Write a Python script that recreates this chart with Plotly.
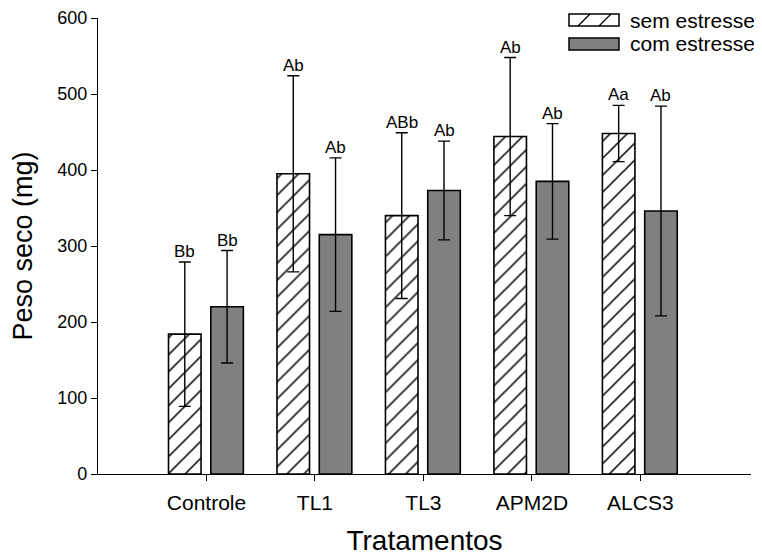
import plotly.graph_objects as go

categories = ["Controle", "TL1", "TL3", "APM2D", "ALCS3"]
sem_values = [184, 395, 340, 444, 448]
sem_errors = [95, 129, 109, 104, 37]
com_values = [220, 315, 373, 385, 346]
com_errors = [74, 101, 65, 76, 138]
sem_labels = ["Bb", "Ab", "ABb", "Ab", "Aa"]
com_labels = ["Bb", "Ab", "Ab", "Ab", "Ab"]
series_names = ["sem estresse", "com estresse"]
y_ticks = [0, 100, 200, 300, 400, 500, 600]

FONT = "Arial, Liberation Sans, sans-serif"
xpos = list(range(len(categories)))

fig = go.Figure()
fig.add_trace(go.Bar(
    x=xpos, y=sem_values, name=series_names[0],
    offset=-0.35, width=0.30,
    marker=dict(color="white", line=dict(color="black", width=1.6),
                pattern=dict(shape="/", fgcolor="black", bgcolor="white",
                             size=12, solidity=0.13, fgopacity=1)),
    error_y=dict(type="data", array=sem_errors, color="black", thickness=1.4, width=6),
))
fig.add_trace(go.Bar(
    x=xpos, y=com_values, name=series_names[1],
    offset=0.04, width=0.30,
    marker=dict(color="#808080", line=dict(color="black", width=1.6)),
    error_y=dict(type="data", array=com_errors, color="black", thickness=1.4, width=6),
))

for i in xpos:
    fig.add_annotation(x=i - 0.20, y=sem_values[i] + sem_errors[i], text=sem_labels[i],
                       showarrow=False, yanchor="bottom", yshift=-1,
                       font=dict(family=FONT, size=17, color="black"))
    fig.add_annotation(x=i + 0.19, y=com_values[i] + com_errors[i], text=com_labels[i],
                       showarrow=False, yanchor="bottom", yshift=-1,
                       font=dict(family=FONT, size=17, color="black"))

# page body has an 8px margin: compensate so the plot lands where intended
OFF = 8
W, H = 762, 559
L, T = 98 - OFF, 18 - OFF
pw, ph = 653, 456
R = W - L - pw
B = H - T - ph


def px(x):
    return (x - OFF - L) / pw


def py(y):
    return (T + ph - (y - OFF)) / ph


fig.add_shape(type="rect", xref="paper", yref="paper",
              x0=px(569), x1=px(619), y0=py(26), y1=py(14),
              fillcolor="white", line=dict(color="black", width=1.5))
for xa, xb in [(578, 590), (599, 611)]:
    fig.add_shape(type="line", xref="paper", yref="paper",
                  x0=px(xa), x1=px(xb), y0=py(26), y1=py(14),
                  line=dict(color="black", width=1.3))
fig.add_shape(type="rect", xref="paper", yref="paper",
              x0=px(569), x1=px(619), y0=py(50), y1=py(38),
              fillcolor="#808080", line=dict(color="black", width=1.5))
fig.add_annotation(xref="paper", yref="paper", x=px(628), y=py(20), text=series_names[0],
                   showarrow=False, xanchor="left", yanchor="middle",
                   font=dict(family=FONT, size=21, color="black"))
fig.add_annotation(xref="paper", yref="paper", x=px(628), y=py(44), text=series_names[1],
                   showarrow=False, xanchor="left", yanchor="middle",
                   font=dict(family=FONT, size=21, color="black"))

fig.update_layout(
    width=W, height=H,
    margin=dict(l=L, r=R, t=T, b=B, autoexpand=False),
    paper_bgcolor="white", plot_bgcolor="white",
    barmode="overlay",
    font=dict(family=FONT, color="black"),
    showlegend=False,
    xaxis=dict(range=[-1, 5.02], tickmode="array", tickvals=xpos, ticktext=categories,
               showline=True, linecolor="black", linewidth=1.3, ticks="outside",
               ticklen=6, tickcolor="black", showgrid=False, zeroline=False,
               tickfont=dict(size=21), automargin=False, ticklabelstandoff=4,
               title=dict(text="Tratamentos", font=dict(size=28), standoff=17)),
    yaxis=dict(range=[0, 600], tickvals=y_ticks, showline=True, linecolor="black",
               linewidth=1.3, ticks="outside", ticklen=6, tickcolor="black",
               showgrid=False, zeroline=False, tickfont=dict(size=18), automargin=False,
               title=dict(text="Peso seco (mg)", font=dict(size=27), standoff=18)),
)

fig.write_html("out.html")
